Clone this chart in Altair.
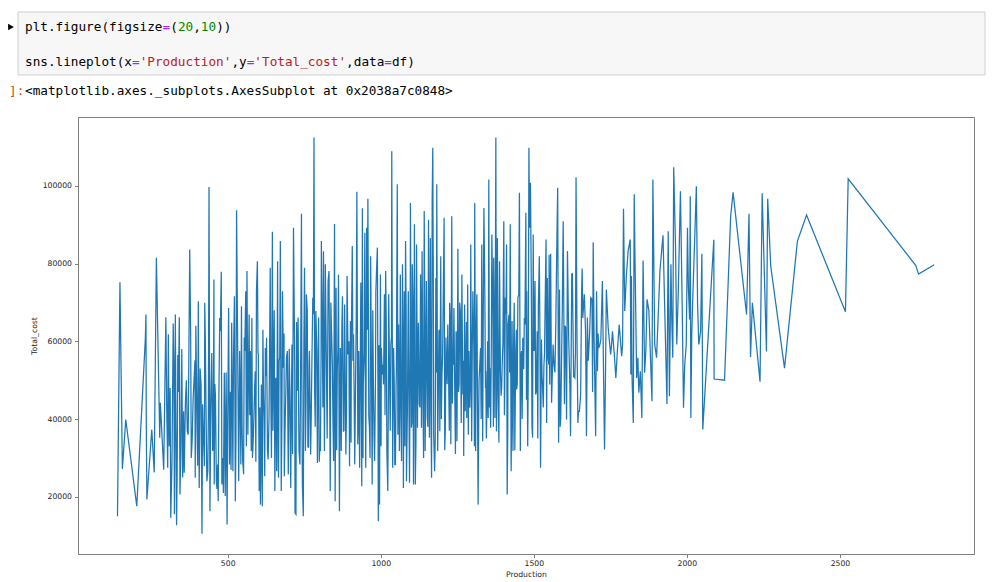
import altair as alt
import pandas as pd

# ---------------- data ----------------
production_a = [140, 148, 156, 167, 203, 231, 233, 234, 236, 252,
                260, 267, 278, 280, 291, 298, 304, 306, 314, 322,
                326, 329, 333, 337, 342, 344, 356, 358, 362, 368,
                376, 384, 393, 394, 400, 404, 407, 413, 416, 418,
                424, 425, 429, 435, 439, 442, 445, 451, 455, 456,
                460, 463, 467, 469, 476, 479, 481, 486, 489, 492,
                498, 503, 506, 513, 517, 522, 525, 529]
cost_a = [15000, 75200, 27200, 39900, 17600, 60700, 66900, 39900, 19300, 37300,
          26300, 81500, 35200, 44200, 27000, 66200, 27500, 61800, 14600, 64600,
          15500, 66900, 12700, 56500, 66200, 20600, 42000, 26200, 44600, 36900,
          83600, 34700, 55100, 24900, 36500, 70300, 22300, 48900, 10500, 43800,
          27900, 69900, 43800, 26600, 99700, 16300, 43800, 31800, 75900, 23200,
          45900, 24000, 28300, 18900, 62600, 77900, 23200, 21000, 51900, 20200,
          12900, 68600, 28300, 64800, 26600, 71600, 18900, 93700]

# in-band points between the spikes (300-530)
production_a2 = [301, 309, 312, 318, 324, 331, 335, 339, 347, 350,
                 353, 365, 371, 379, 381, 387, 396, 402, 410, 421,
                 427, 432, 437, 448, 453, 458, 465, 471, 474, 484,
                 495, 500, 509, 511, 519, 527]
cost_a2 = [42000, 33000, 48000, 29000, 55000, 38000, 27000, 47000, 31000, 58000,
           25000, 50000, 36000, 62000, 30000, 45000, 64000, 28000, 53000, 35000,
           60000, 24000, 41000, 57000, 33000, 49000, 22000, 44000, 66000, 30000,
           52000, 38000, 47000, 27000, 56000, 35000]

production_b = [536, 539, 543, 545, 549, 552, 556, 559, 563, 566,
                570, 574, 577, 581, 586, 590, 594, 597, 600, 603,
                607, 610, 613, 617, 621, 623, 627, 632, 635, 639,
                643, 646, 650, 654, 657, 660, 663, 666, 670, 672,
                675, 679, 682, 685, 688, 692, 695, 698, 703, 706,
                710, 715, 717, 720, 723, 727, 730, 733, 736, 741,
                744, 747, 751, 754, 757, 760, 764, 767, 771, 775,
                778, 782, 784, 788, 791, 793, 797, 801, 803, 806,
                809, 813, 816, 819, 822, 828, 831, 835, 839, 842,
                846, 849, 851, 854, 858, 862, 865, 868, 871, 875,
                878, 882, 886, 890, 893, 898, 901, 904, 907, 911,
                915, 918, 922, 925, 928, 931, 935, 938, 940, 943,
                948, 951, 954, 958, 961, 965, 967, 972, 976, 980,
                984, 987, 989, 992, 996, 999, 1002, 1005, 1009, 1012,
                1016, 1020, 1023, 1026, 1029, 1033, 1036, 1039, 1042, 1046]
cost_b = [24000, 57500, 28300, 69000, 29200, 25800, 57500, 72900, 78100, 36000,
          66900, 57500, 31800, 30000, 42000, 52300, 72900, 80600, 56600, 21500,
          18000, 48900, 17600, 46300, 25300, 58300, 60900, 29600, 40300, 78900,
          30000, 88200, 54900, 21500, 50600, 26600, 80600, 24900, 55800, 85800,
          21500, 72900, 53200, 25300, 40300, 55800, 57500, 25800, 47200, 22300,
          59200, 89200, 71200, 15900, 15500, 47200, 66100, 31800, 28300, 92800,
          23200, 15000, 78900, 31800, 72100, 67800, 32600, 57500, 30900, 54000,
          71200, 112400, 47200, 67800, 58300, 28700, 66100, 32600, 31800, 85800,
          63500, 83200, 31800, 79800, 57500, 75500, 78100, 21500, 63500, 54000,
          29200, 90200, 18900, 73800, 52300, 77200, 16300, 58300, 31800, 71600,
          36900, 69500, 30900, 76800, 56600, 27900, 65200, 60900, 84500, 61800,
          28300, 51500, 98500, 33500, 57500, 27500, 75100, 22700, 94200, 48900,
          87900, 27500, 89200, 96700, 40800, 30000, 81900, 23200, 48900, 29200,
          72900, 79800, 84100, 13700, 18000, 77200, 58300, 51500, 48900, 72100,
          78100, 31800, 21500, 72100, 48900, 59200, 108900, 27500, 58300, 28300]

production_b2 = [541, 547, 554, 561, 568, 572, 579, 584, 588, 592,
                 599, 605, 609, 615, 619, 625, 630, 637, 641, 648,
                 652, 659, 665, 668, 677, 684, 690, 697, 701, 708,
                 712, 719, 725, 732, 738, 743, 749, 756, 762, 766,
                 773, 780, 786, 795, 799, 805, 811, 818, 825, 833,
                 837, 844, 853, 856, 860, 867, 873, 880, 884, 888,
                 896, 903, 909, 913, 920, 927, 933, 942, 946, 950,
                 956, 963, 970, 974, 978, 983, 991, 994, 1001, 1007,
                 1014, 1018, 1025, 1031, 1035, 1044]
cost_b2 = [45000, 38000, 61000, 33000, 52000, 41000, 66000, 36000, 48000, 29000,
           57000, 43000, 35000, 63000, 40000, 51000, 32000, 59000, 46000, 37000,
           68000, 42000, 30000, 55000, 39000, 62000, 47000, 34000, 58000, 44000,
           31000, 53000, 65000, 40000, 49000, 36000, 60000, 45000, 33000, 54000,
           41000, 67000, 38000, 50000, 29000, 56000, 43000, 62000, 35000, 48000,
           70000, 39000, 52000, 32000, 58000, 46000, 64000, 37000, 51000, 42000,
           60000, 34000, 55000, 47000, 66000, 40000, 53000, 30000, 57000, 44000,
           63000, 38000, 49000, 68000, 36000, 52000, 45000, 59000, 33000, 54000,
           41000, 65000, 47000, 37000, 61000, 50000]

production_c = [1048, 1051, 1054, 1058, 1061, 1064, 1068, 1071, 1074, 1077,
                1081, 1084, 1087, 1090, 1094, 1097, 1100, 1103, 1107, 1110,
                1113, 1117, 1120, 1123, 1126, 1130, 1133, 1135, 1138, 1142,
                1145, 1149, 1152, 1156, 1159, 1162, 1166, 1168, 1170, 1173,
                1176, 1180, 1183, 1186, 1190, 1193, 1196, 1200, 1204, 1207,
                1211, 1215, 1219, 1222, 1225, 1229, 1232, 1235, 1239, 1242,
                1246, 1249, 1252, 1256, 1260, 1265, 1268, 1271, 1274, 1278,
                1281, 1284, 1288, 1291, 1294, 1297, 1301, 1304, 1307, 1310,
                1314, 1318, 1321, 1326, 1330, 1333, 1337, 1340, 1343, 1347,
                1351, 1353, 1356, 1359, 1363, 1366, 1369, 1373, 1376, 1378,
                1381, 1384, 1388, 1391, 1395, 1399, 1402, 1405, 1407, 1411,
                1413, 1416, 1419, 1423, 1426, 1429, 1432, 1436, 1441, 1444,
                1448, 1451, 1453, 1456, 1460, 1464, 1467, 1471, 1474, 1477,
                1480, 1484, 1486, 1489, 1492, 1496, 1498, 1501, 1504, 1506,
                1511, 1515, 1518, 1522, 1525, 1528, 1533, 1537, 1540, 1544,
                1547, 1550]
cost_c = [28300, 52300, 100400, 64300, 31800, 77200, 29200, 79800, 22300, 72900,
          85800, 24000, 42000, 72900, 23600, 95600, 37800, 79800, 23200, 90100,
          23200, 84900, 37800, 64800, 43800, 77200, 37800, 83200, 43800, 93500,
          31800, 75500, 40300, 91300, 35200, 86600, 24900, 96100, 109800, 36000,
          26600, 76300, 100400, 31800, 62600, 36900, 81900, 51500, 69500, 91800,
          37300, 52300, 64300, 48900, 69900, 33500, 92200, 55800, 68600, 45500,
          62600, 34300, 83800, 48900, 67800, 77200, 46300, 30500, 69500, 54000,
          40300, 74600, 57500, 42900, 84900, 34300, 72900, 59200, 95600, 31800,
          72100, 18000, 49800, 58300, 84900, 34300, 94300, 72900, 52300, 43800,
          40300, 101600, 53200, 37800, 87500, 67800, 81500, 40300, 112400, 36900,
          86600, 44600, 80600, 52300, 48000, 59200, 90900, 47200, 71200, 84900,
          20600, 64300, 66900, 90100, 26600, 65200, 31800, 69900, 57500, 47600,
          71200, 72100, 98200, 31800, 57500, 60900, 52800, 64300, 93100, 72900,
          33000, 109800, 89200, 100800, 72900, 35200, 87500, 57500, 75500, 46300,
          62600, 69500, 81900, 27500, 60500, 49800, 53600, 69500, 86200, 76300,
          55800, 82300]

production_c2 = [1050, 1056, 1063, 1066, 1073, 1079, 1083, 1092, 1096, 1102,
                 1105, 1112, 1115, 1122, 1128, 1132, 1140, 1144, 1147, 1154,
                 1158, 1164, 1172, 1178, 1182, 1188, 1192, 1198, 1202, 1209,
                 1213, 1217, 1224, 1227, 1234, 1237, 1244, 1248, 1254, 1258,
                 1263, 1270, 1276, 1280, 1286, 1293, 1299, 1306, 1312, 1316,
                 1323, 1328, 1335, 1342, 1345, 1349, 1355, 1361, 1368, 1371,
                 1380, 1386, 1390, 1393, 1397, 1404, 1409, 1415, 1421, 1428,
                 1434, 1438, 1443, 1446, 1458, 1462, 1469, 1476, 1482, 1494,
                 1500, 1508, 1513, 1520, 1527, 1531, 1535, 1542, 1549]
cost_c2 = [48000, 36000, 62000, 41000, 55000, 33000, 67000, 45000, 58000, 39000,
           71000, 47000, 34000, 60000, 43000, 53000, 30000, 64000, 50000, 38000,
           57000, 42000, 69000, 35000, 52000, 46000, 63000, 40000, 56000, 32000,
           61000, 49000, 37000, 66000, 44000, 54000, 31000, 59000, 47000, 70000,
           39000, 55000, 42000, 65000, 36000, 51000, 58000, 33000, 62000, 45000,
           53000, 40000, 68000, 48000, 35000, 60000, 43000, 57000, 38000, 64000,
           50000, 34000, 61000, 46000, 55000, 41000, 67000, 37000, 52000, 44000,
           59000, 32000, 63000, 49000, 56000, 40000, 66000, 45000, 53000, 38000,
           60000, 47000, 35000, 62000, 51000, 43000, 57000, 39000, 54000]

production_d = [1552, 1555, 1558, 1563, 1566, 1572, 1575, 1578, 1581, 1584,
                1588, 1593, 1596, 1598, 1600, 1604, 1607, 1610, 1614, 1620,
                1624, 1626, 1630, 1634, 1638, 1641, 1644, 1649, 1653, 1656,
                1658, 1665, 1669, 1672, 1675, 1682, 1686, 1690, 1694, 1697,
                1702, 1705, 1708, 1712, 1716, 1719, 1724, 1731, 1737, 1743,
                1751, 1754, 1757, 1763, 1768, 1773, 1779, 1787, 1790, 1793,
                1797, 1802, 1808, 1815, 1817, 1819, 1821, 1825, 1828, 1830,
                1836, 1840, 1843, 1848, 1853, 1857, 1862, 1866, 1870, 1876,
                1886, 1889, 1895, 1901, 1912, 1922, 1935, 1939, 1943, 1948,
                1951, 1954, 1957, 1963, 1967, 1972, 1979, 1985, 1989, 1993,
                1998, 2002, 2005, 2009, 2011, 2013, 2016, 2020, 2026, 2031,
                2035, 2039, 2045]
cost_d = [48900, 82500, 44200, 59200, 54000, 65200, 83600, 99500, 33900, 73300,
          40300, 68200, 90900, 68600, 43800, 63500, 39900, 83200, 60900, 35600,
          77200, 77600, 51000, 50600, 102200, 61300, 39000, 42000, 46300, 71600,
          78700, 72100, 62600, 35600, 66100, 61300, 71200, 70800, 85500, 60500,
          35600, 72900, 52300, 58300, 59200, 60500, 75500, 32200, 73300, 63500,
          56600, 59200, 62600, 56600, 50600, 57500, 64300, 56200, 59200, 94100,
          67800, 76300, 83200, 86200, 51500, 76800, 50600, 39000, 97800, 84500,
          50600, 55800, 46800, 52300, 40300, 80800, 51900, 57500, 70800, 67800,
          44600, 101600, 59200, 55800, 78100, 87300, 43900, 88300, 45900, 79800,
          64300, 55800, 104800, 84100, 59200, 72900, 98600, 67800, 42900, 54000,
          59200, 89200, 73800, 65600, 97300, 40300, 61800, 72900, 87500, 99900,
          69500, 59200, 62600]

production_d2 = [1553, 1569, 1586, 1602, 1618, 1636, 1646, 1660, 1678, 1692, 1710, 1734]
cost_d2 = [60000, 52000, 38000, 64000, 48000, 57000, 42000, 66000, 55000, 47000, 62000, 50000]

production_e = [2049, 2052, 2088, 2089, 2123, 2143, 2151, 2195, 2203, 2208,
                2214, 2239, 2246, 2260, 2264, 2274, 2319, 2361, 2391, 2518,
                2527, 2748, 2757, 2808]
cost_e = [82500, 37300, 86100, 50300, 50000, 92100, 98300, 66900, 92800, 56000,
          69900, 49600, 98100, 57400, 96700, 79300, 53100, 85700, 92500, 67600,
          101800, 79500, 77300, 79700]

production = (production_a + production_a2 + production_b + production_b2 + production_c
              + production_c2 + production_d + production_d2 + production_e)
total_cost = (cost_a + cost_a2 + cost_b + cost_b2 + cost_c
              + cost_c2 + cost_d + cost_d2 + cost_e)

x_ticks = [500, 1000, 1500, 2000, 2500]
y_ticks = [20000, 40000, 60000, 80000, 100000]

code_line1 = [("plt.figure(figsize", "#000000"), ("=", "#aa22ff"), ("(", "#000000"),
              ("20", "#008800"), (",", "#000000"), ("10", "#008800"), ("))", "#000000")]
code_line2 = [("sns.lineplot(x", "#000000"), ("=", "#aa22ff"), ("'Production'", "#ba2121"),
              (",y", "#000000"), ("=", "#aa22ff"), ("'Total_cost'", "#ba2121"),
              (",data", "#000000"), ("=", "#aa22ff"), ("df)", "#000000")]
out_prompt = "]:"
out_text = "<matplotlib.axes._subplots.AxesSubplot at 0x2038a7c0848>"

# ---------------- chart ----------------
df = pd.DataFrame({"Production": production, "Total_cost": total_cost})
df = df.sort_values("Production").reset_index(drop=True)
dummy = pd.DataFrame({"k": [0]})

PLOT_W, PLOT_H = 896, 437
MONO = "DejaVu Sans Mono"
MONO_SIZE = 12.7
CW = MONO_SIZE * 0.602

axis_common = dict(
    labelFont="DejaVu Sans", labelFontSize=7.7, labelColor="#262626",
    titleFont="DejaVu Sans", titleFontSize=7.7, titleFontWeight="normal", titleColor="#262626",
    tickColor="#808080", tickSize=3.5, tickWidth=1,
    domainColor="#808080", domainWidth=1, grid=False, format="d",
)

line = alt.Chart(df).mark_line(color="#1f77b4", strokeWidth=1.25, clip=True).encode(
    x=alt.X("Production:Q",
            scale=alt.Scale(domain=[11, 2938], nice=False, zero=False),
            axis=alt.Axis(values=x_ticks, title="Production", labelPadding=2, titlePadding=3,
                          **axis_common)),
    y=alt.Y("Total_cost:Q",
            scale=alt.Scale(domain=[5300, 117700], nice=False, zero=False),
            axis=alt.Axis(values=y_ticks, title="Total_cost", labelPadding=3, titlePadding=4,
                          **axis_common)),
)


def txt(s, x, y, color, size=MONO_SIZE, font=MONO, align="left"):
    return alt.Chart(dummy).mark_text(
        text=s, font=font, fontSize=size, color=color, align=align, baseline="middle"
    ).encode(x=alt.value(x), y=alt.value(y))


layers = []
box = alt.Chart(dummy).mark_rect(fill="#f7f7f7", stroke="#cfcfcf", strokeWidth=1).encode(
    x=alt.value(-60), x2=alt.value(907), y=alt.value(-105), y2=alt.value(-42))
layers.append(box)

icon = alt.Chart(dummy).mark_point(shape="triangle-right", filled=True, color="#000000",
                                   size=45, opacity=1).encode(
    x=alt.value(-67), y=alt.value(-90))
layers.append(icon)


def code_layers(segs, x0, y):
    out = []
    pos = 0
    for s, c in segs:
        out.append(txt(s, x0 + pos * CW, y, c))
        pos += len(s)
    return out


layers += code_layers(code_line1, -53, -90.5)
layers += code_layers(code_line2, -53, -55.5)
layers.append(txt(out_prompt, -69, -26.5, "#d84315", align="left"))
layers.append(txt(out_text, -53, -26.5, "#000000"))

chart = alt.layer(line, *layers).properties(
    width=PLOT_W, height=PLOT_H,
    autosize=alt.AutoSizeParams(type="none"),
    padding={"left": 70, "top": 109, "right": 20, "bottom": 28},
).configure_view(stroke="#808080", strokeWidth=1)

chart.save("out.html", embed_options={"renderer": "svg", "actions": False})
